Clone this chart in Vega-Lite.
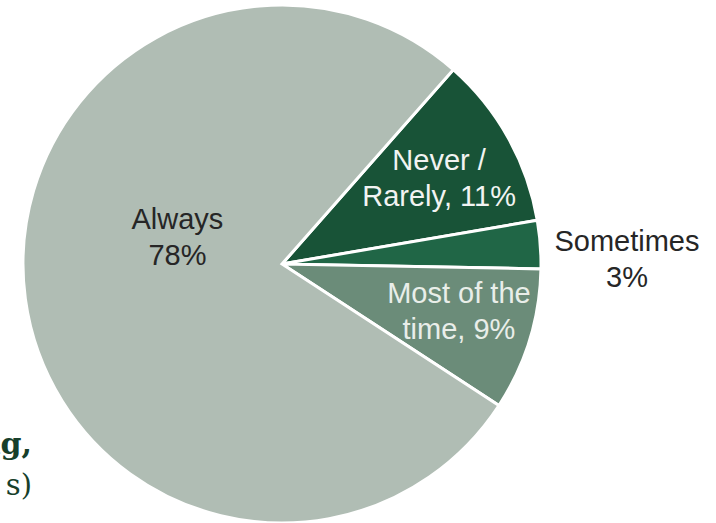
{
  "$schema": "https://vega.github.io/schema/vega-lite/v6.json",
  "width": 564,
  "height": 528,
  "autosize": "none",
  "padding": {"left": 0, "top": 0, "right": 152, "bottom": 0},
  "background": "white",
  "config": {"view": {"stroke": null}},
  "title": {
    "text": "ng,",
    "subtitle": "s)",
    "orient": "bottom",
    "anchor": "start",
    "frame": "group",
    "align": "right",
    "dx": 32,
    "dy": -99,
    "offset": 0,
    "font": "DejaVu Serif",
    "fontSize": 30,
    "fontWeight": "bold",
    "color": "#173f2b",
    "subtitleFont": "DejaVu Serif",
    "subtitleFontSize": 29,
    "subtitleFontWeight": "normal",
    "subtitleColor": "#173f2b",
    "subtitlePadding": 12
  },
  "data": {
    "values": [
      {"ord": 1, "cat": "Never / Rarely", "value": 10.8, "label": ["Never /", "Rarely, 11%"]},
      {"ord": 2, "cat": "Sometimes", "value": 3.0, "label": ["Sometimes", "3%"]},
      {"ord": 3, "cat": "Most of the time", "value": 8.9, "label": ["Most of the", "time, 9%"]},
      {"ord": 4, "cat": "Always", "value": 77.3, "label": ["Always", "78%"]}
    ]
  },
  "encoding": {
    "theta": {"field": "value", "type": "quantitative", "stack": true, "scale": {"range": [0.7226, 7.0058]}},
    "order": {"field": "ord", "type": "quantitative"}
  },
  "layer": [
    {
      "mark": {"type": "arc", "outerRadius": 259, "stroke": "white", "strokeWidth": 3},
      "encoding": {
        "color": {
          "field": "cat",
          "type": "nominal",
          "scale": {
            "domain": ["Never / Rarely", "Sometimes", "Most of the time", "Always"],
            "range": ["#185337", "#206646", "#6b8c79", "#b0bdb4"]
          },
          "legend": null
        }
      }
    },
    {
      "mark": {"type": "text", "radius": 179, "thetaOffset": 0.009, "dy": -17, "font": "Liberation Sans", "fontSize": 29, "lineHeight": 36, "align": "center", "baseline": "middle", "fill": "#f2f4f2"},
      "encoding": {
        "text": {"condition": {"test": "datum.cat === 'Never / Rarely'", "field": "label"}, "value": ""}
      }
    },
    {
      "mark": {"type": "text", "radius": 345, "thetaOffset": 0.061, "dy": -17, "font": "Liberation Sans", "fontSize": 29, "lineHeight": 36, "align": "center", "baseline": "middle", "fill": "#262626"},
      "encoding": {
        "text": {"condition": {"test": "datum.cat === 'Sometimes'", "field": "label"}, "value": ""}
      }
    },
    {
      "mark": {"type": "text", "radius": 183, "thetaOffset": -0.040, "dy": -17, "font": "Liberation Sans", "fontSize": 29, "lineHeight": 36, "align": "center", "baseline": "middle", "fill": "#e9eee9"},
      "encoding": {
        "text": {"condition": {"test": "datum.cat === 'Most of the time'", "field": "label"}, "value": ""}
      }
    },
    {
      "mark": {"type": "text", "radius": 108, "thetaOffset": 0.388, "dy": -17, "font": "Liberation Sans", "fontSize": 29, "lineHeight": 36, "align": "center", "baseline": "middle", "fill": "#262626"},
      "encoding": {
        "text": {"condition": {"test": "datum.cat === 'Always'", "field": "label"}, "value": ""}
      }
    }
  ]
}
